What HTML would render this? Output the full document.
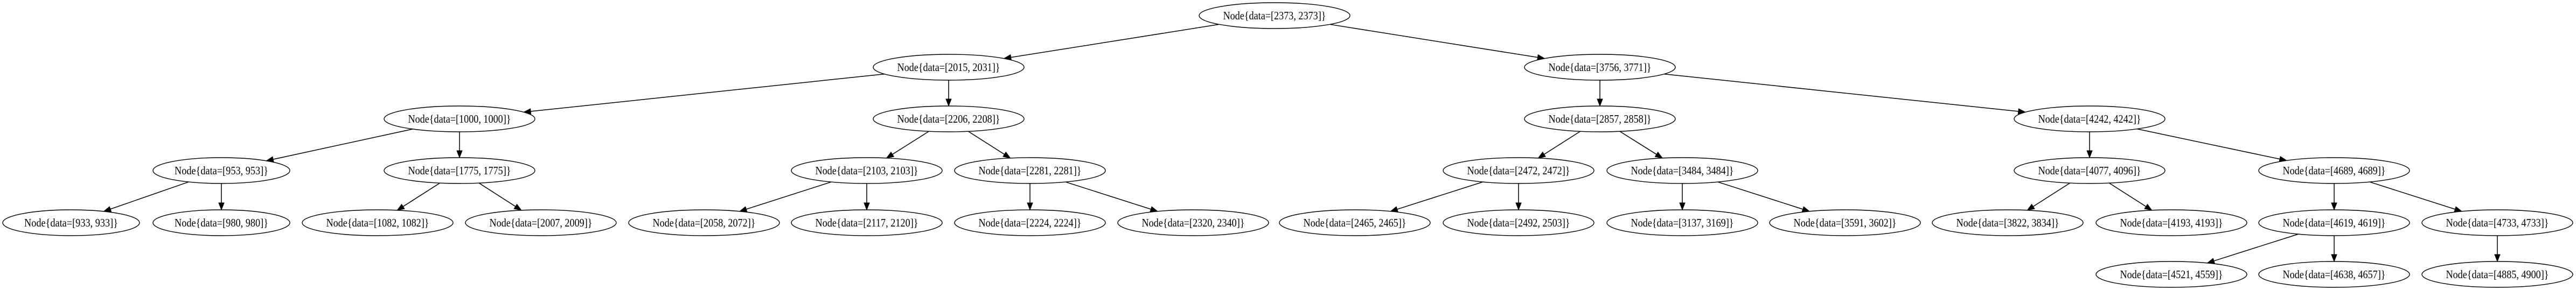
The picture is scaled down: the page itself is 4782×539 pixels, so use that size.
<!DOCTYPE html>
<html><head><meta charset="utf-8"><style>
html,body{margin:0;padding:0;background:#fff;}
svg{display:block;}
text{font-family:"Liberation Serif",serif;font-size:21px;fill:#000;}
ellipse{fill:none;stroke:#000;stroke-width:1.4;}
</style></head><body>
<svg id="s" width="4782" height="539" viewBox="0 0 4782 539" xmlns="http://www.w3.org/2000/svg">
<g id="edges"></g>
<g id="nodes">
<ellipse id="n_root" cx="2366" cy="29" rx="140" ry="24"/><text x="2366" y="36" text-anchor="middle" textLength="191" lengthAdjust="spacingAndGlyphs">Node{data=[2373, 2373]}</text>
<ellipse id="n_a" cx="1761" cy="125" rx="140" ry="24"/><text x="1761" y="132" text-anchor="middle" textLength="191" lengthAdjust="spacingAndGlyphs">Node{data=[2015, 2031]}</text>
<ellipse id="n_b" cx="2970" cy="125" rx="140" ry="24"/><text x="2970" y="132" text-anchor="middle" textLength="191" lengthAdjust="spacingAndGlyphs">Node{data=[3756, 3771]}</text>
<ellipse id="n_c" cx="853" cy="221" rx="140" ry="24"/><text x="853" y="228" text-anchor="middle" textLength="191" lengthAdjust="spacingAndGlyphs">Node{data=[1000, 1000]}</text>
<ellipse id="n_d" cx="1761" cy="221" rx="140" ry="24"/><text x="1761" y="228" text-anchor="middle" textLength="191" lengthAdjust="spacingAndGlyphs">Node{data=[2206, 2208]}</text>
<ellipse id="n_e" cx="2970" cy="221" rx="140" ry="24"/><text x="2970" y="228" text-anchor="middle" textLength="191" lengthAdjust="spacingAndGlyphs">Node{data=[2857, 2858]}</text>
<ellipse id="n_f" cx="3879" cy="221" rx="140" ry="24"/><text x="3879" y="228" text-anchor="middle" textLength="191" lengthAdjust="spacingAndGlyphs">Node{data=[4242, 4242]}</text>
<ellipse id="n_g" cx="411" cy="317" rx="127" ry="24"/><text x="411" y="324" text-anchor="middle" textLength="174" lengthAdjust="spacingAndGlyphs">Node{data=[953, 953]}</text>
<ellipse id="n_h" cx="853" cy="317" rx="140" ry="24"/><text x="853" y="324" text-anchor="middle" textLength="191" lengthAdjust="spacingAndGlyphs">Node{data=[1775, 1775]}</text>
<ellipse id="n_i" cx="1609" cy="317" rx="140" ry="24"/><text x="1609" y="324" text-anchor="middle" textLength="191" lengthAdjust="spacingAndGlyphs">Node{data=[2103, 2103]}</text>
<ellipse id="n_j" cx="1912" cy="317" rx="140" ry="24"/><text x="1912" y="324" text-anchor="middle" textLength="191" lengthAdjust="spacingAndGlyphs">Node{data=[2281, 2281]}</text>
<ellipse id="n_k" cx="2819" cy="317" rx="140" ry="24"/><text x="2819" y="324" text-anchor="middle" textLength="191" lengthAdjust="spacingAndGlyphs">Node{data=[2472, 2472]}</text>
<ellipse id="n_l" cx="3123" cy="317" rx="140" ry="24"/><text x="3123" y="324" text-anchor="middle" textLength="191" lengthAdjust="spacingAndGlyphs">Node{data=[3484, 3484]}</text>
<ellipse id="n_m" cx="3879" cy="317" rx="140" ry="24"/><text x="3879" y="324" text-anchor="middle" textLength="191" lengthAdjust="spacingAndGlyphs">Node{data=[4077, 4096]}</text>
<ellipse id="n_n" cx="4333" cy="317" rx="140" ry="24"/><text x="4333" y="324" text-anchor="middle" textLength="191" lengthAdjust="spacingAndGlyphs">Node{data=[4689, 4689]}</text>
<ellipse id="n_p1" cx="132" cy="414" rx="127" ry="24"/><text x="132" y="421" text-anchor="middle" textLength="174" lengthAdjust="spacingAndGlyphs">Node{data=[933, 933]}</text>
<ellipse id="n_p2" cx="411" cy="414" rx="127" ry="24"/><text x="411" y="421" text-anchor="middle" textLength="174" lengthAdjust="spacingAndGlyphs">Node{data=[980, 980]}</text>
<ellipse id="n_p3" cx="701" cy="414" rx="140" ry="24"/><text x="701" y="421" text-anchor="middle" textLength="191" lengthAdjust="spacingAndGlyphs">Node{data=[1082, 1082]}</text>
<ellipse id="n_p4" cx="1004" cy="414" rx="140" ry="24"/><text x="1004" y="421" text-anchor="middle" textLength="191" lengthAdjust="spacingAndGlyphs">Node{data=[2007, 2009]}</text>
<ellipse id="n_p5" cx="1307" cy="414" rx="140" ry="24"/><text x="1307" y="421" text-anchor="middle" textLength="191" lengthAdjust="spacingAndGlyphs">Node{data=[2058, 2072]}</text>
<ellipse id="n_p6" cx="1609" cy="414" rx="140" ry="24"/><text x="1609" y="421" text-anchor="middle" textLength="191" lengthAdjust="spacingAndGlyphs">Node{data=[2117, 2120]}</text>
<ellipse id="n_p7" cx="1912" cy="414" rx="140" ry="24"/><text x="1912" y="421" text-anchor="middle" textLength="191" lengthAdjust="spacingAndGlyphs">Node{data=[2224, 2224]}</text>
<ellipse id="n_p8" cx="2215" cy="414" rx="140" ry="24"/><text x="2215" y="421" text-anchor="middle" textLength="191" lengthAdjust="spacingAndGlyphs">Node{data=[2320, 2340]}</text>
<ellipse id="n_p9" cx="2515" cy="414" rx="140" ry="24"/><text x="2515" y="421" text-anchor="middle" textLength="191" lengthAdjust="spacingAndGlyphs">Node{data=[2465, 2465]}</text>
<ellipse id="n_p10" cx="2819" cy="414" rx="140" ry="24"/><text x="2819" y="421" text-anchor="middle" textLength="191" lengthAdjust="spacingAndGlyphs">Node{data=[2492, 2503]}</text>
<ellipse id="n_p11" cx="3123" cy="414" rx="140" ry="24"/><text x="3123" y="421" text-anchor="middle" textLength="191" lengthAdjust="spacingAndGlyphs">Node{data=[3137, 3169]}</text>
<ellipse id="n_p12" cx="3425" cy="414" rx="140" ry="24"/><text x="3425" y="421" text-anchor="middle" textLength="191" lengthAdjust="spacingAndGlyphs">Node{data=[3591, 3602]}</text>
<ellipse id="n_p13" cx="3727" cy="414" rx="140" ry="24"/><text x="3727" y="421" text-anchor="middle" textLength="191" lengthAdjust="spacingAndGlyphs">Node{data=[3822, 3834]}</text>
<ellipse id="n_p14" cx="4031" cy="414" rx="140" ry="24"/><text x="4031" y="421" text-anchor="middle" textLength="191" lengthAdjust="spacingAndGlyphs">Node{data=[4193, 4193]}</text>
<ellipse id="n_p15" cx="4333" cy="414" rx="140" ry="24"/><text x="4333" y="421" text-anchor="middle" textLength="191" lengthAdjust="spacingAndGlyphs">Node{data=[4619, 4619]}</text>
<ellipse id="n_p16" cx="4636" cy="414" rx="140" ry="24"/><text x="4636" y="421" text-anchor="middle" textLength="191" lengthAdjust="spacingAndGlyphs">Node{data=[4733, 4733]}</text>
<ellipse id="n_q1" cx="4031" cy="510" rx="140" ry="24"/><text x="4031" y="517" text-anchor="middle" textLength="191" lengthAdjust="spacingAndGlyphs">Node{data=[4521, 4559]}</text>
<ellipse id="n_q2" cx="4333" cy="510" rx="140" ry="24"/><text x="4333" y="517" text-anchor="middle" textLength="191" lengthAdjust="spacingAndGlyphs">Node{data=[4638, 4657]}</text>
<ellipse id="n_q3" cx="4636" cy="510" rx="140" ry="24"/><text x="4636" y="517" text-anchor="middle" textLength="191" lengthAdjust="spacingAndGlyphs">Node{data=[4885, 4900]}</text>
</g>
</svg>
<script>
(function(){
var E=[["root","a"],["root","b"],["a","c"],["a","d"],["b","e"],["b","f"],["c","g"],["c","h"],["d","i"],["d","j"],["e","k"],["e","l"],["f","m"],["f","n"],["g","p1"],["g","p2"],["h","p3"],["h","p4"],["i","p5"],["i","p6"],["j","p7"],["j","p8"],["k","p9"],["k","p10"],["l","p11"],["l","p12"],["m","p13"],["m","p14"],["n","p15"],["n","p16"],["p15","q1"],["p15","q2"],["p16","q3"]];
var NS="http://www.w3.org/2000/svg",g=document.getElementById("edges");
function el(id){var e=document.getElementById("n_"+id);return{x:+e.getAttribute("cx"),y:+e.getAttribute("cy"),rx:+e.getAttribute("rx"),ry:+e.getAttribute("ry")};}
function clip(n,dx,dy){var t=1/Math.sqrt(dx*dx/(n.rx*n.rx)+dy*dy/(n.ry*n.ry));return t;}
E.forEach(function(p){
 var a=el(p[0]),b=el(p[1]);var dx=b.x-a.x,dy=b.y-a.y;
 var ta=clip(a,dx,dy),tb=clip(b,-dx,-dy);
 var sx=a.x+dx*ta,sy=a.y+dy*ta,ex=b.x-dx*tb,ey=b.y-dy*tb;
 var L=Math.hypot(ex-sx,ey-sy),ux=(ex-sx)/L,uy=(ey-sy)/L;
 var ah=13,aw=5;
 var bx=ex-ux*ah,by=ey-uy*ah;
 var ln=document.createElementNS(NS,"line");
 ln.setAttribute("x1",sx);ln.setAttribute("y1",sy);ln.setAttribute("x2",bx);ln.setAttribute("y2",by);
 ln.setAttribute("stroke","#000");ln.setAttribute("stroke-width","1.5");g.appendChild(ln);
 var pg=document.createElementNS(NS,"polygon");
 pg.setAttribute("points",ex+","+ey+" "+(bx-uy*aw)+","+(by+ux*aw)+" "+(bx+uy*aw)+","+(by-ux*aw));
 pg.setAttribute("fill","#000");pg.setAttribute("stroke","#000");g.appendChild(pg);
});
})();
</script>
</body></html>
